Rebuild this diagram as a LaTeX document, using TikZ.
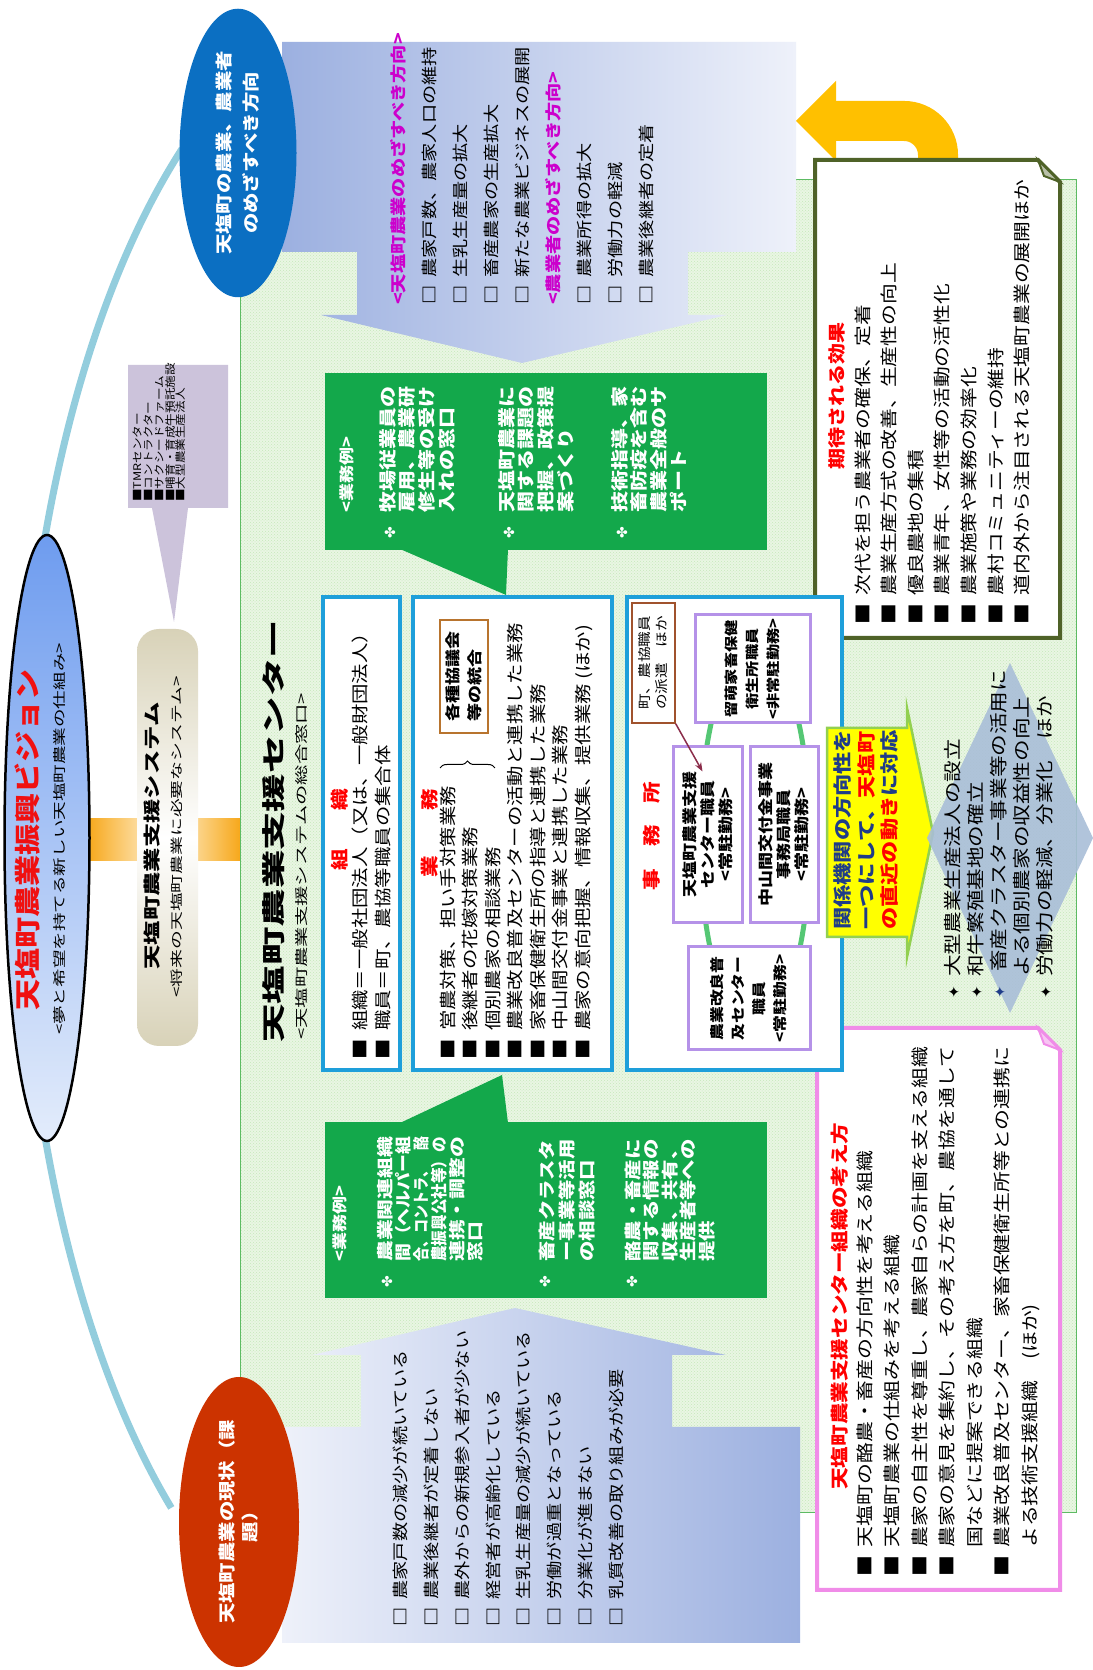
\documentclass[tikz,border=0pt]{standalone}
\usepackage{fontspec}
\usepackage{graphicx}
\setmainfont{Noto Sans CJK JP}[FakeStretch=1.2]
\newfontfamily\plainjp{Noto Sans CJK JP}
\newfontfamily\symf{DejaVu Sans}
\usetikzlibrary{shapes.geometric,patterns,decorations.pathreplacing,calc,arrows.meta}

\definecolor{arcblue}{HTML}{93CDDD}
\definecolor{orgbar}{HTML}{F7A81B}
\definecolor{barmid}{HTML}{FFF6E0}
\definecolor{ttlblue}{HTML}{6E9CEF}
\definecolor{ttllight}{HTML}{E3ECFB}
\definecolor{ttlred}{HTML}{F01010}
\definecolor{cylbeige}{HTML}{D8D2B8}
\definecolor{tmrlav}{HTML}{CCC3DB}
\definecolor{bggreen}{HTML}{E9F6E3}
\definecolor{bgdot}{HTML}{C6E8BA}
\definecolor{bgline}{HTML}{5DBB63}
\definecolor{arrdark}{HTML}{9CB0E0}
\definecolor{arrlight}{HTML}{EEF1FA}
\definecolor{goalblue}{HTML}{0B6FC2}
\definecolor{nowred}{HTML}{CC3300}
\definecolor{boxgreen}{HTML}{13A84B}
\definecolor{magh}{HTML}{CC00CC}
\definecolor{cyanb}{HTML}{1E9FDA}
\definecolor{purpb}{HTML}{B592E8}
\definecolor{ringg}{HTML}{55C774}
\definecolor{noteb}{HTML}{A0522D}
\definecolor{notearr}{HTML}{8B2D4A}
\definecolor{brownb}{HTML}{B8742E}
\definecolor{yelbox}{HTML}{FFFF00}
\definecolor{yelbord}{HTML}{92D050}
\definecolor{navy}{HTML}{1F3C88}
\definecolor{diamf}{HTML}{A9BED8}
\definecolor{effb}{HTML}{4F6228}
\definecolor{uturn}{HTML}{FFC000}
\definecolor{pinkb}{HTML}{F08CE8}

\newcommand\fsz[2]{\fontsize{#1}{#2}\selectfont}
\newcommand\bsq{■\enspace}
\newcommand\bind{\phantom{■}\enspace}
\newcommand\wsq{{\bfseries □}\enspace}
\newcommand\stb[1][black]{\makebox[22pt][l]{\textcolor{#1}{\symf\fsz{15}{15}✦}}}
\newcommand\jl[1]{\resizebox{125pt}{\height}{#1}}

\begin{document}
\begin{tikzpicture}[x=1pt, y=1pt,
  txt/.style={inner sep=0pt, anchor=north west, align=left},
  wtxt/.style={txt, text=white, font=\bfseries\fsz{17.5}{19.7}},
  redh/.style={text=red, font=\bfseries\fsz{18}{18}, inner sep=0pt},
  bbox/.style={draw=cyanb, line width=3.5pt, fill=white},
  pbox/.style={draw=purpb, line width=3pt, fill=white, inner sep=2pt, align=center, font=\bfseries\fsz{15}{18}},
  clover/.style={text=white, inner sep=0pt, font=\symf\fsz{14}{14}}]
\useasboundingbox (0,0) rectangle (1092,1670);
\fill[white] (0,0) rectangle (1092,1670);
\begin{scope}[rotate=90, transform shape]
  % arc joining the present state and the goal
  \draw[arcblue, line width=7pt] (833,-400) ++(35:840pt and 380pt) arc[start angle=35, end angle=143, x radius=840pt, y radius=380pt];
  \shade[left color=orgbar, right color=orgbar, middle color=barmid] (809,-240) rectangle (851,-88);

  % vision and support system
  \node[ellipse, draw=black, line width=2.5pt, top color=ttlblue, bottom color=ttllight, minimum width=606pt, minimum height=85pt] (vision) at (832,-47) {};
  \node[inner sep=0pt, text=ttlred] (vtitle) at (830,-27) {\resizebox{342pt}{\height}{\plainjp\bfseries\fsz{26}{26}天塩町農業振興ビジョン}};
  \node[inner sep=0pt] (vsub) at (831,-60) {\resizebox{392pt}{\height}{\fsz{13}{13}<夢と希望を持てる新しい天塩町農業の仕組み>}};
  \node[rounded corners=22pt, top color=cylbeige, bottom color=cylbeige, middle color=white, minimum width=417pt, minimum height=61pt] (sys) at (832.5,-167.5) {};
  \node[inner sep=0pt] (systitle) at (834,-152) {\resizebox{267pt}{\height}{\bfseries\fsz{17}{17}天塩町農業支援システム}};
  \node[inner sep=0pt] (syssub) at (833,-177) {\resizebox{321pt}{\height}{\fsz{12.5}{12.5}<将来の天塩町農業に必要なシステム>}};
  \fill[tmrlav] (1162,-128) -- (1305,-128) -- (1305,-228) -- (1162,-228) -- (1162,-188) -- (1048,-174) -- (1162,-152) -- cycle;
  \node[txt, font=\fsz{10.5}{10.8}] (tmr) at (1168,-133) {■TMRセンター\\■コントラクター\\■サクシードファーム\\■哺育・育成牛預託施設\\■大型農業生産法人};

  % green area of the support center
  \fill[bggreen] (157,-1076) rectangle (1490,-240);
  \fill[pattern=crosshatch dots, pattern color=bgdot] (157,-1076) rectangle (1490,-240);
  \draw[bgline, line width=1pt] (157,-1076) rectangle (1490,-240);

  % big callout arrows
  \shade[left color=arrdark, right color=arrlight] (1628,-282) -- (1628,-796) -- (1418,-796) -- (1418,-688) -- (1355,-688) -- (1355,-727) -- (1307,-522) -- (1355,-321) -- (1355,-357) -- (1418,-357) -- (1418,-282) -- cycle;
  \shade[left color=arrlight, right color=arrdark] (27,-282) -- (27,-800) -- (243,-800) -- (243,-672) -- (315,-672) -- (315,-726) -- (362,-515) -- (315,-312) -- (315,-361) -- (243,-361) -- (243,-282) -- cycle;
  \node[ellipse, fill=goalblue, inner sep=0pt, minimum width=287pt, minimum height=117pt, text=white, align=center, font=\bfseries\fsz{17}{27}] (goal) at (1517,-238) {天塩町の農業、農業者\\のめざすべき方向};
  \node[ellipse, fill=nowred, inner sep=0pt, minimum width=290pt, minimum height=120pt, text=white, align=center, font=\bfseries\fsz{17}{23}] (now) at (148,-239) {天塩町農業の現状（課\\題）};
  \node[txt, font=\fsz{16}{31}] (goallist) at (1365,-390) {{\color{magh}\bfseries <天塩町農業のめざすべき方向>}\\
    \wsq 農家戸数、農家人口の維持\\\wsq 生乳生産量の拡大\\\wsq 畜産農家の生産拡大\\\wsq 新たな農業ビジネスの展開\\
    {\color{magh}\bfseries <農業者のめざすべき方向>}\\
    \wsq 農業所得の拡大\\\wsq 労働力の軽減\\\wsq 農業後継者の定着};
  \node[txt, font=\fsz{16}{30.8}] (nowlist) at (43,-393) {\wsq 農家戸数の減少が続いている\\\wsq 農業後継者が定着しない\\
    \wsq 農外からの新規参入者が少ない\\\wsq 経営者が高齢化している\\\wsq 生乳生産量の減少が続いている\\
    \wsq 労働が過重となっている\\\wsq 分業化が進まない\\\wsq 乳質改善の取り組みが必要};

  % green boxes with examples of the work
  \fill[boxgreen] (1120,-767) rectangle (1297,-325);
  \fill[boxgreen] (1121,-400) -- (1075,-506) -- (1121,-508) -- cycle;
  \node[anchor=west, inner sep=0pt, text=white, font=\bfseries\fsz{15}{15}] (exa) at (1157,-347) {<業務例>};
  \foreach \y [count=\i] in {-390,-509,-622}
    \node[clover] (ca\i) at (1137,\y) {✤};
  \node[wtxt] (exa1) at (1157,-379) {牧場従業員の\\雇用、農業研\\修生等の受け\\入れの窓口};
  \node[wtxt] (exa2) at (1157,-498) {天塩町農業に\\関する課題の\\把握、政策提\\案づくり};
  \node[wtxt] (exa3) at (1157,-611) {技術指導、家\\畜防疫を含む\\農業全般のサ\\ポート};

  \fill[boxgreen] (372,-767) rectangle (548,-325);
  \fill[boxgreen] (547,-400) -- (595,-502) -- (547,-508) -- cycle;
  \node[anchor=west, inner sep=0pt, text=white, font=\bfseries\fsz{15}{15}] (exb) at (408,-340) {<業務例>};
  \foreach \y [count=\i] in {-387,-545,-632}
    \node[clover] (cb\i) at (388,\y) {✤};
  \node[wtxt, font=\bfseries\fsz{16.5}{18}] (exb1) at (408,-376.75) {\jl{農業関連組織}\\\jl{間（ヘルパー組}\\\jl{合、コントラ、\hspace{18pt}酪}\\\jl{農振興公社等）の}\\\jl{連携・調整の}\\窓口};
  \node[wtxt, font=\bfseries\fsz{17}{20}] (exb2) at (408,-538.5) {畜産クラスタ\\ー事業等活用\\の相談窓口};
  \node[wtxt, font=\bfseries\fsz{17}{18.5}] (exb3) at (408,-624.5) {酪農・畜産に\\関する情報の\\収集、共有、\\生産者等への\\提供};

  % expected effects, with the u-turn arrow back to the goal
  \draw[uturn, line width=40pt] (1505,-938) -- (1515,-938) arc[start angle=-90, end angle=0, radius=34pt] -- (1549,-834);
  \fill[uturn] (1589,-836) -- (1549,-796) -- (1509,-836) -- cycle;
  \filldraw[fill=white, draw=effb, line width=4pt] (1032,-815) -- (1510,-815) -- (1510,-1038) -- (1488,-1060) -- (1032,-1060) -- cycle;
  \filldraw[fill=effb!40, draw=effb, line width=2pt] (1510,-1038) -- (1494,-1044) -- (1488,-1060) -- cycle;
  \node[redh, anchor=west, font=\bfseries\fsz{17.5}{17.5}] (effh) at (1200,-837) {期待される効果};
  \node[txt, font=\fsz{17.3}{26.6}] (efflist) at (1045,-854.4) {\bsq 次代を担う農業者の確保、定着\\\bsq 農業生産方式の改善、生産性の向上\\
    \bsq 優良農地の集積\\\bsq 農業青年、女性等の活動の活性化\\\bsq 農業施策や業務の効率化\\
    \bsq 農村コミュニティーの維持\\\bsq 道内外から注目される天塩町農業の展開ほか};

  % how the center is organised
  \filldraw[fill=white, draw=pinkb, line width=4pt] (80,-817) -- (642,-817) -- (642,-1038) -- (620,-1060) -- (80,-1060) -- cycle;
  \filldraw[fill=pinkb!50, draw=pinkb, line width=2pt] (642,-1038) -- (626,-1044) -- (620,-1060) -- cycle;
  \node[redh, anchor=west] (pinkh) at (180,-840) {天塩町農業支援センター組織の考え方};
  \node[txt, font=\fsz{17.4}{27.5}] (pinklist) at (93,-856.3) {\bsq 天塩町の酪農・畜産の方向性を考える組織\\\bsq 天塩町農業の仕組みを考える組織\\
    \bsq 農家の自主性を尊重し、農家自らの計画を支える組織\\\bsq 農家の意見を集約し、その考え方を町、農協を通して\\
    \bind 国などに提案できる組織\\\bsq 農業改良普及センター、家畜保健衛生所等との連携に\\\bind よる技術支援組織　(ほか)};

  % support center
  \node[anchor=west, inner sep=0pt] (ctitle) at (627,-274) {\resizebox{423pt}{20pt}{\bfseries 天塩町農業支援センター}};
  \node[anchor=west, inner sep=0pt] (csub) at (630,-302) {\resizebox{347pt}{11pt}{<天塩町農業支援システムの総合窓口>}};
  \draw[bbox] (600,-323) rectangle (1073,-400);
  \draw[bbox] (600,-413) rectangle (1073,-612);
  \draw[bbox] (600,-627) rectangle (1073,-842);
  \node[redh] (horg) at (840,-340) {組\hspace{38pt}織};
  \node[txt, font=\fsz{17}{23}] (orgl) at (610,-351.5) {\bsq 組織＝一般社団法人（又は、一般財団法人）\\\bsq 職員＝町、農協等職員の集合体};
  \node[redh] (hwork) at (837,-430) {業\hspace{45pt}務};
  \node[txt, font=\fsz{17}{22.5}] (workl) at (610,-439.5) {\bsq 営農対策、担い手対策業務\\\bsq 後継者の花嫁対策業務\\\bsq 個別農家の相談業務\\
    \bsq 農業改良普及センターの活動と連携した業務\\\bsq 家畜保健衛生所の指導と連携した業務\\
    \bsq 中山間交付金事業と連携した業務\\\bsq 農家の意向把握、情報収集、提供業務 (ほか)};
  \draw[decorate, decoration={brace, amplitude=7pt}, line width=1pt] (902,-440) -- (902,-495);
  \node[draw=brownb, line width=1.5pt, fill=white, font=\bfseries\fsz{15}{22}, align=left, minimum width=113pt, minimum height=48pt] (kyogi) at (993.5,-464) {各種協議会\\等の統合};

  \node[redh] (hoff) at (834,-652) {事\hspace{22pt}務\hspace{22pt}所};
  \draw[ringg, line width=5pt] (832,-755) ellipse [x radius=190pt, y radius=55pt];
  \node[pbox, minimum width=176pt, minimum height=69pt] (sctr) at (835,-707.5) {天塩町農業支援\\センター職員\\<常駐勤務>};
  \node[pbox, minimum width=176pt, minimum height=68pt] (chusan) at (835,-784) {中山間交付金事業\\事務局職員\\<常駐勤務>};
  \node[pbox, minimum width=108pt, minimum height=115pt, font=\bfseries\fsz{13.5}{21}] (hoken) at (1001,-752.5) {留萌家畜保健\\衛生所職員\\<非常駐勤務>};
  \node[pbox, minimum width=103pt, minimum height=122pt, font=\bfseries\fsz{14}{21}] (fukyu) at (671.5,-749) {農業改良普\\及センター\\職員\\<常駐勤務>};
  \node[draw=noteb, line width=1.3pt, fill=white, align=left, font=\fsz{13}{17}, minimum width=120pt, minimum height=43pt] (note) at (1007,-653.5) {町、農協職員\\の派遣　ほか};
  \draw[notearr, line width=1.5pt, -{Stealth[length=9pt]}] (note.south west) -- ($(sctr.east)+(-26,5)$);

  % direction of the local bodies
  \filldraw[fill=yelbox, draw=yelbord, line width=2.5pt] (733,-827) -- (942,-827) -- (942,-907) -- (962,-907) -- (837,-933) -- (713,-907) -- (733,-907) -- cycle;
  \node[txt, font=\bfseries\fsz{18.5}{23.5}] (yel) at (740,-833.75) {\textcolor{navy}{関係機関の方向性を}\\\textcolor{navy}{一つにして、}\textcolor{red}{天塩町}\\\textcolor{red}{の直近の動き}\textcolor{navy}{に対応}};
  \fill[diamf, opacity=0.9] (657,-1010) -- (832,-927) -- (1007,-1010) -- (832,-1093) -- cycle;
  \node[txt, font=\fsz{18}{23}] (dlist) at (671,-944) {\stb 大型農業生産法人の設立\\\stb 和牛繁殖基地の確立\\\stb[navy] 畜産クラスター事業等の活用に\\
    \hspace*{22pt}よる個別農家の収益性の向上\\\stb 労働力の軽減、分業化　ほか};
\end{scope}
\end{tikzpicture}
\end{document}
